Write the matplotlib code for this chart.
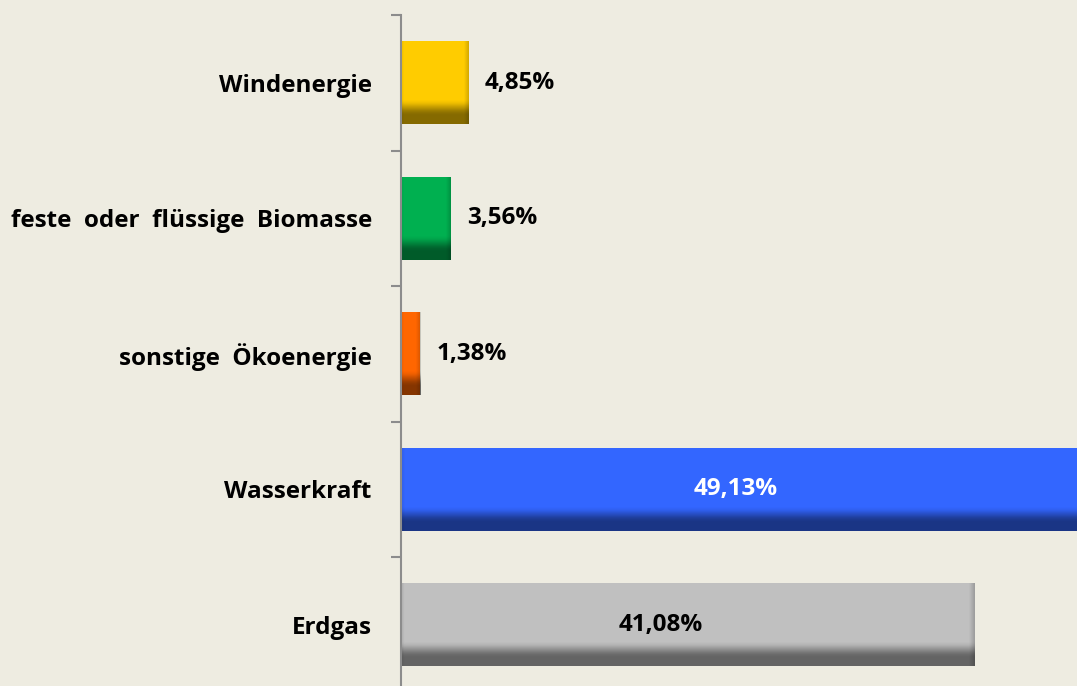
import numpy as np
import matplotlib
matplotlib.use("Agg")
import matplotlib.pyplot as plt

categories = ["Windenergie", "feste  oder  flüssige  Biomasse", "sonstige  Ökoenergie", "Wasserkraft", "Erdgas"]
values = [4.85, 3.56, 1.38, 49.13, 41.08]
value_labels = ["4,85%", "3,56%", "1,38%", "49,13%", "41,08%"]
colors = ["#FFCC00", "#00B050", "#FF6600", "#3366FF", "#C0C0C0"]
label_inside = [False, False, False, True, True]
label_colors = ["black", "black", "black", "white", "black"]

BG = "#EEECE1"
plt.rcParams['font.family'] = ['Open Sans', 'DejaVu Sans']
FS = 17.5

W, H = 1077, 686
fig = plt.figure(figsize=(W / 100, H / 100), dpi=100, facecolor=BG)
ax = fig.add_axes([401 / W, 1 - 692.5 / H, 1 - 401 / W, (692.5 - 15) / H])
ax.set_facecolor(BG)

y = np.arange(len(categories))
bars = ax.barh(y, values, height=0.61, color=colors, edgecolor='none', zorder=2)
xmax = (W - 401) / 13.97
ax.set_xlim(0, xmax)
ax.set_ylim(len(categories) - 0.5, -0.5)

fig.canvas.draw()
px_per_unit = ax.transData.transform((1, 0))[0] - ax.transData.transform((0, 0))[0]

# gradient shading overlay (dark bottom and slightly darker right edge)
for b in bars:
    x0, yb, w, h = b.get_x(), b.get_y(), b.get_width(), b.get_height()
    ny, nx = 100, 400
    t = np.linspace(0, 1, ny)[:, None]
    tt = np.clip((t - 0.70) / (0.90 - 0.70), 0, 1)
    av = (tt * tt * (3 - 2 * tt)) * 0.48
    wpx = w * px_per_unit
    s = np.linspace(0, 1, nx)[None, :]
    edge = 5.0 / max(wpx, 1)
    ah = np.clip((s - (1 - edge)) / edge, 0, 1) * 0.18
    ah += np.clip((edge * 0.6 - s) / (edge * 0.6), 0, 1) * 0.08
    alpha = 1 - (1 - av) * (1 - ah)
    img = np.zeros((ny, nx, 4))
    img[..., 3] = alpha
    im = ax.imshow(img, extent=(x0, x0 + w, yb + h, yb), origin='upper',
                   aspect='auto', zorder=3, interpolation='bilinear')
    im.set_clip_path(b)
ax.set_xlim(0, xmax)
ax.set_ylim(len(categories) - 0.5, -0.5)

# value labels
inside_shift_px = {3: -3, 4: -27}
for i, (b, v, lab) in enumerate(zip(bars, values, value_labels)):
    yc = b.get_y() + b.get_height() / 2
    if label_inside[i]:
        xc = min(v, xmax) / 2
        ax.annotate(lab, (xc, yc), xytext=(inside_shift_px.get(i, 0) * 0.72, 0),
                    textcoords='offset points', ha='center', va='center',
                    fontsize=FS, fontweight='bold', color=label_colors[i], zorder=5)
    else:
        ax.annotate(lab, (v, yc), xytext=(16 * 0.72, 0), textcoords='offset points',
                    ha='left', va='center', fontsize=FS, fontweight='bold',
                    color=label_colors[i], zorder=5)

ax.set_yticks(y)
ax.set_yticklabels(categories, fontsize=FS, fontweight='bold')
ax.tick_params(axis='y', which='major', length=0, pad=21)
ax.set_yticks(np.arange(-0.5, len(categories), 1), minor=True)
ax.tick_params(axis='y', which='minor', length=7.2, width=1.5, color='#8C8C8C', direction='out')
ax.set_xticks([])
for sp in ['top', 'right', 'bottom']:
    ax.spines[sp].set_visible(False)
ax.spines['left'].set_color('#8C8C8C')
ax.spines['left'].set_linewidth(1.5)
ax.spines['left'].set_zorder(4)

fig.savefig("out.png", dpi=100, facecolor=BG)
